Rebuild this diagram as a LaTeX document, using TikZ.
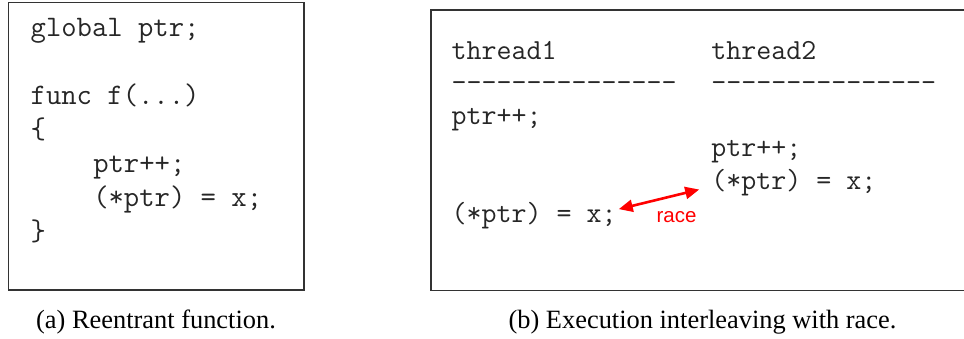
\documentclass[tikz,border=0pt]{standalone}
\usepackage{fontspec}
\newfontfamily\capfont{Liberation Serif}
\newfontfamily\racefont{Liberation Sans}
\usetikzlibrary{arrows.meta}
\newcommand\dashrow{-{}-{}-{}-{}-{}-{}-{}-{}-{}-{}-{}-{}-{}-{}-{}}
\begin{document}
\begin{tikzpicture}[x=1pt,y=-1pt,
  codeA/.style={anchor=base west,inner sep=0pt,text=black!85,font=\ttfamily\fontsize{29.8}{34}\selectfont},
  codeB/.style={anchor=base west,inner sep=0pt,text=black!85,font=\ttfamily\fontsize{29.1}{33}\selectfont},
  frame/.style={draw=black!80,line width=1.3pt},
  caption/.style={anchor=base,inner sep=0pt,font=\capfont\fontsize{26.4}{30}\selectfont},
  racearrow/.style={red,line width=2.6pt,{Triangle[length=14pt,width=12pt]}-{Triangle[length=14pt,width=12pt]}},
  racelabel/.style={anchor=base,inner sep=0pt,text=red,font=\racefont\fontsize{20.5}{24}\selectfont}]
\useasboundingbox (0,0) rectangle (964,338);
% frames
\draw[frame] (8.3,2.5) rectangle (304,290);
\draw[frame] (964,10) -- (431,10) -- (431,290.5) -- (964,290.5);
% panel (a)
\node[codeA] (aglob) at (30.5,36) {global ptr;};
\node[codeA] (afunc) at (30.5,104) {func f(...)};
\node[codeA] (aopen) at (30.5,138) {\{};
\node[codeA] (ainc) at (93.1,172) {ptr++;};
\node[codeA] (aset) at (93.1,206) {(*ptr) = x;};
\node[codeA] (aclose) at (30.5,240) {\}};
% panel (b)
\node[codeB] (th1) at (451.5,59) {thread1};
\node[codeB] (th2) at (711.2,59) {thread2};
\node[codeB] (d1) at (451.5,91.6) {\dashrow};
\node[codeB] (d2) at (711.2,91.6) {\dashrow};
\node[codeB] (t1inc) at (451.5,124.2) {ptr++;};
\node[codeB] (t2inc) at (711.2,156.8) {ptr++;};
\node[codeB] (t2set) at (711.2,189.4) {(*ptr) = x;};
\node[codeB] (t1set) at (451.5,222) {(*ptr) = x;};
\draw[racearrow] ([xshift=2pt,yshift=6pt]t1set.east) -- ([xshift=-12pt,yshift=-7pt]t2set.west);
\node[racelabel] (race) at (676.5,222) {race};
% captions
\node[caption] (capa) at (156,328) {(a) Reentrant function.};
\node[caption] (capb) at (702.5,328) {(b) Execution interleaving with race.};
\end{tikzpicture}
\end{document}
